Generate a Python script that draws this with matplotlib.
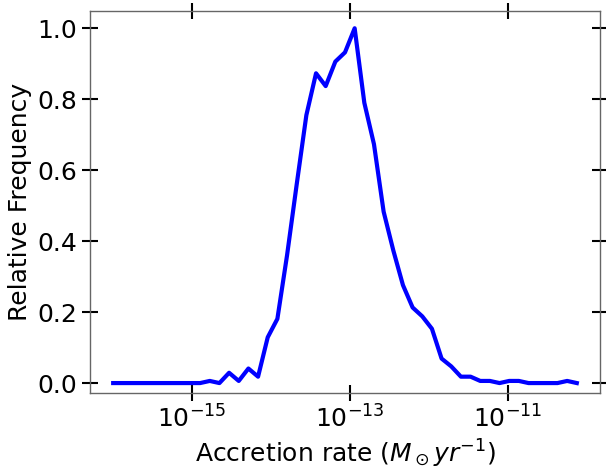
import matplotlib
matplotlib.use("Agg")
import matplotlib.pyplot as plt
import numpy as np

# bin edges of log accretion rate (log10 Msun/yr), left edges plotted
log_rate = np.linspace(-16, -10, 50)[:-1]
rel_freq = [0, 0, 0, 0, 0, 0, 0, 0, 0, 0,
            0.006, 0.0, 0.029, 0.006, 0.041, 0.018, 0.129, 0.181, 0.36, 0.56,
            0.755, 0.873, 0.837, 0.906, 0.932, 1.0, 0.79, 0.673, 0.483, 0.374,
            0.276, 0.213, 0.188, 0.153, 0.069, 0.047, 0.018, 0.018, 0.006, 0.006,
            0.0, 0.006, 0.006, 0.0, 0.0, 0.0, 0.0, 0.006, 0.0]

fig = plt.figure(figsize=(6.06, 4.69), dpi=100)
ax = fig.add_axes([90/606, 1-393/469, 510/606, 382.5/469])

ax.plot(10**log_rate, rel_freq, color="blue", linewidth=3)
ax.set_xscale("log")
ax.set_ylim(-0.028, 1.05)
ax.set_xticks([1e-15, 1e-13, 1e-11])
ax.minorticks_off()

ax.tick_params(direction="inout", length=11, width=1.5, labelsize=18,
               top=True, right=True, color="black")
for sp in ax.spines.values():
    sp.set_color("#666666")
    sp.set_linewidth(1)

ax.set_xlabel(r"Accretion rate ($M_\odot yr^{-1}$)", fontsize=18)
ax.set_ylabel("Relative Frequency", fontsize=18)

fig.savefig("out.png", dpi=100)
